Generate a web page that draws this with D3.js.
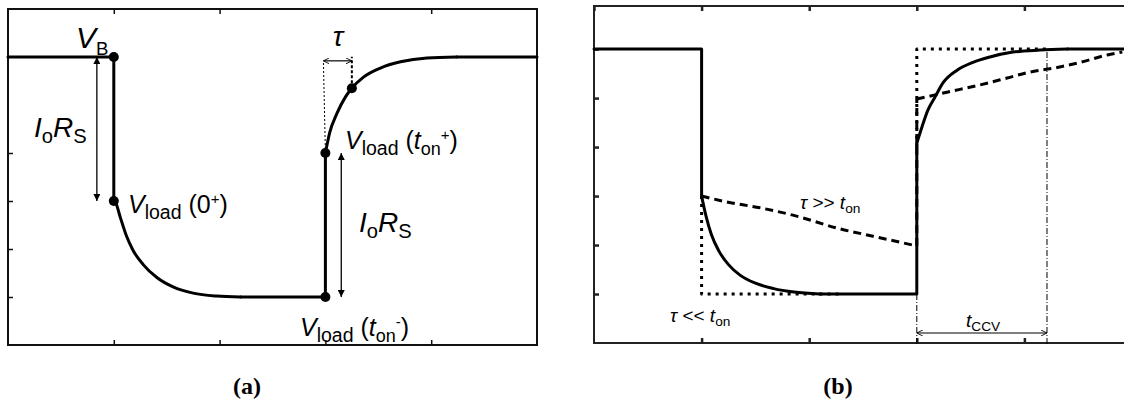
<!DOCTYPE html>
<html>
<head>
<meta charset="utf-8">
<script src="https://cdn.jsdelivr.net/npm/d3@7"></script>
<style>
  body { margin: 0; background: #fff; }
  svg { display: block; }
  text { fill: #000; }
</style>
</head>
<body>
<svg id="fig" width="1124" height="399"></svg>
<script>
// ---------- (a) one load pulse: time and voltage in tick units ----------
const bottomTicksA = [1, 2, 3, 4];
const topTicksA = [1, 2, 4];
const leftTicksA = [1, 2, 3, 4];
// battery voltage before the pulse, then the instantaneous IoRs drop
const stepInA = [[0, 6], [1, 6], [1, 3]];
// relaxation during the pulse towards v_load(t_on-)
const decayA = [[1, 3], [1.02, 2.95], [1.06, 2.67], [1.12, 2.27], [1.18, 1.98], [1.28, 1.67],
                [1.41, 1.40], [1.56, 1.21], [1.75, 1.08], [1.97, 1.02], [2.2, 1]];
// flat end of the pulse and the IoRs jump back up at t_on
const flatA = [[2.2, 1], [3, 1], [3, 4]];
// recovery after the pulse back to V_B
const riseA = [[3, 4], [3.04, 4.42], [3.11, 4.83], [3.19, 5.17], [3.25, 5.35], [3.36, 5.58],
               [3.52, 5.77], [3.71, 5.9], [3.96, 5.98], [4.24, 6]];
const tailA = [[4.24, 6], [5, 6]];
// highlighted points: V_B, v_load(0+), v_load(t_on-), v_load(t_on+), one time constant later
const pointsA = [[1, 6], [1, 3], [3, 1], [3, 4], [3.25, 5.35]];

// ---------- (b) fast vs slow time constant ----------
const bottomTicksB = [1, 2, 3, 4];
const topTicksB = [0, 1, 2, 3, 4];
const leftTicksB = [1, 2, 3, 4, 5, 6];
const stepInB = [[0, 6], [1, 6], [1, 3]];
const decayB = [[1, 3], [1.04, 2.6], [1.09, 2.22], [1.16, 1.88], [1.25, 1.6], [1.36, 1.38],
                [1.5, 1.22], [1.67, 1.11], [1.86, 1.04], [2.1, 1]];
const flatB = [[2.1, 1], [3, 1], [3, 4.08]];
const riseB = [[3, 4.08], [3.048, 4.41], [3.104, 4.76], [3.169, 5.02], [3.243, 5.31], [3.374, 5.57],
               [3.522, 5.73], [3.68, 5.84], [3.894, 5.94], [4.145, 5.98], [4.4, 6]];
const tailB = [[4.4, 6], [5, 6]];
// tau >> t_on: slow drift during the pulse and a slow recovery afterwards
const slowDecayB = [[1, 3], [1.232, 2.88], [1.543, 2.76], [1.849, 2.61], [2.286, 2.33], [2.593, 2.18], [3, 1.98]];
const slowJumpB = [[3, 1.98], [3, 4.98]];
const slowRiseB = [[3, 4.98], [3.28, 5.12], [3.59, 5.27], [3.84, 5.41], [4.05, 5.53], [4.27, 5.61],
                   [4.52, 5.73], [4.77, 5.88], [4.91, 5.94]];
// tau << t_on: ideal rectangular response
const idealLowB = [[1, 3], [1, 1], [2.3, 1]];
const idealHighB = [[3, 4], [3, 6], [4.2, 6]];
// OCV sampling window after the pulse
const tOcvB = [3, 4.21];

const SANS = "'Liberation Sans', Arial, sans-serif";
const SERIF = "'Liberation Serif', 'Times New Roman', serif";

const svg = d3.select("#fig");

const xA = d3.scaleLinear().domain([0, 5]).range([8, 537]);
const yA = d3.scaleLinear().domain([0, 7]).range([345, 9]);
const xB = d3.scaleLinear().domain([0, 5]).range([594, 1132]);
const yB = d3.scaleLinear().domain([0, 6.88]).range([343, 6]);

// arrowheads
const defs = svg.append("defs");
defs.append("marker").attr("id", "head").attr("viewBox", "0 0 10 10")
  .attr("refX", 10).attr("refY", 5).attr("markerWidth", 7).attr("markerHeight", 7)
  .attr("markerUnits", "userSpaceOnUse").attr("orient", "auto-start-reverse")
  .append("path").attr("d", "M0,0 L10,5 L0,10 Z").attr("fill", "#000");
defs.append("marker").attr("id", "headS").attr("viewBox", "0 0 10 10")
  .attr("refX", 10).attr("refY", 5).attr("markerWidth", 6).attr("markerHeight", 6)
  .attr("markerUnits", "userSpaceOnUse").attr("orient", "auto-start-reverse")
  .append("path").attr("d", "M0,0 L10,5 L0,10").attr("fill", "none").attr("stroke", "#000").attr("stroke-width", 1.5);

function frame(g, x, y, top, bottom, left, opts) {
  const [x0, x1] = x.range();
  const [y0, y1] = y.range();
  g.append("rect").attr("x", x0).attr("y", y1).attr("width", x1 - x0).attr("height", y0 - y1)
    .attr("fill", "none").attr("stroke", opts.color).attr("stroke-width", 2);
  const ax = (gen, tx, ty) => {
    const a = g.append("g").attr("transform", `translate(${tx},${ty})`).call(gen);
    a.select(".domain").remove();
    a.selectAll("text").remove();
    a.selectAll("line").attr("stroke", opts.color).attr("stroke-width", opts.tickWidth);
  };
  ax(d3.axisBottom(x).tickValues(bottom).tickSize(-opts.tick), 0, y0);
  ax(d3.axisTop(x).tickValues(top).tickSize(-opts.tick), 0, y1);
  ax(d3.axisLeft(y).tickValues(left).tickSize(-opts.tick), x0, 0);
}

function trace(g, x, y, data, curve, style) {
  const line = d3.line().x(d => x(d[0])).y(d => y(d[1])).curve(curve);
  const p = g.append("path").attr("d", line(data)).attr("fill", "none")
    .attr("stroke", "#000").attr("stroke-width", style.width)
    .attr("stroke-linejoin", "round").attr("stroke-linecap", style.cap || "round");
  if (style.dash) p.attr("stroke-dasharray", style.dash);
  return p;
}

// rich label: parts = [text, style] with style among it / sub / sup
function label(g, x, y, size, parts) {
  const t = g.append("text").attr("x", x).attr("y", y).style("font-size", size + "px")
    .style("font-family", SANS);
  let shift = 0;
  parts.forEach(([s, st = {}]) => {
    const target = st.sub ? size * 0.22 : st.sup ? -size * 0.38 : 0;
    const ts = t.append("tspan").text(s).attr("dy", target - shift);
    shift = target;
    if (st.it) ts.style("font-style", "italic");
    if (st.sub || st.sup) ts.style("font-size", (size * (st.scale || 0.72)) + "px");
    if (st.dx) ts.attr("dx", st.dx);
  });
  return t;
}

// ===================== panel (a) =====================
const gA = svg.append("g");
frame(gA, xA, yA, topTicksA, bottomTicksA, leftTicksA, { color: "#111", tick: 5, tickWidth: 1.5 });

const lin = d3.curveLinear, smooth = d3.curveMonotoneX;
trace(gA, xA, yA, stepInA, lin, { width: 3 });
trace(gA, xA, yA, decayA, smooth, { width: 3 });
trace(gA, xA, yA, flatA, lin, { width: 3 });
trace(gA, xA, yA, riseA, smooth, { width: 3 });
trace(gA, xA, yA, tailA, lin, { width: 3 });

gA.selectAll("circle.pt").data(pointsA).join("circle").attr("class", "pt")
  .attr("cx", d => xA(d[0])).attr("cy", d => yA(d[1])).attr("r", 5).attr("fill", "#000");

// IoRs dimension arrows
const arrowA = (xv, v0, v1) => gA.append("line")
  .attr("x1", xA(xv)).attr("x2", xA(xv)).attr("y1", yA(v0)).attr("y2", yA(v1))
  .attr("stroke", "#000").attr("stroke-width", 1.3)
  .attr("marker-start", "url(#head)").attr("marker-end", "url(#head)");
arrowA(0.84, 6, 3);
arrowA(3.15, 4, 1);

// time constant marker
const tauY = yA(5.92);
gA.append("line").attr("x1", xA(3)).attr("y1", yA(4)).attr("x2", xA(3) - 2).attr("y2", tauY)
  .attr("stroke", "#000").attr("stroke-width", 1).attr("stroke-dasharray", "2,2");
gA.append("line").attr("x1", xA(3.25)).attr("y1", yA(5.35)).attr("x2", xA(3.25)).attr("y2", tauY - 4)
  .attr("stroke", "#000").attr("stroke-width", 2).attr("stroke-dasharray", "3,2");
gA.append("line").attr("x1", xA(3) - 2).attr("x2", xA(3.25)).attr("y1", tauY).attr("y2", tauY)
  .attr("stroke", "#000").attr("stroke-width", 1.2)
  .attr("marker-start", "url(#headS)").attr("marker-end", "url(#headS)");

label(gA, xA(3.12), 46, 28, [["τ", { it: true }]]).attr("text-anchor", "middle");
label(gA, 76, 48, 30, [["V", { it: true }], ["B", { sub: true, scale: 0.62 }]]);
label(gA, 34, 137, 28, [["I", { it: true }], ["o", { sub: true }], ["R", { it: true }], ["S", { sub: true }]]);
label(gA, 359, 232, 28, [["I", { it: true }], ["o", { sub: true }], ["R", { it: true }], ["S", { sub: true }]]);
label(gA, 128, 213, 25, [["V", { it: true }], ["load", { sub: true, scale: 0.78 }], [" (0"], ["+", { sup: true, scale: 0.6 }], [")"]]);
label(gA, 345, 149, 25, [["V", { it: true }], ["load", { sub: true, scale: 0.78 }], [" ("], ["t", { it: true }], ["on", { sub: true }], ["+", { sup: true, scale: 0.6 }], [")"]]);
label(gA, 300, 336, 25, [["V", { it: true }], ["load", { sub: true, scale: 0.78 }], [" ("], ["t", { it: true }], ["on", { sub: true }], ["-", { sup: true, scale: 0.6 }], [")"]]);

// ===================== panel (b) =====================
const gB = svg.append("g");
frame(gB, xB, yB, topTicksB, bottomTicksB, leftTicksB, { color: "#222", tick: 5, tickWidth: 2.5 });

// ideal (tau << t_on) dotted response
trace(gB, xB, yB, idealLowB, lin, { width: 3, dash: "3,5", cap: "butt" });
trace(gB, xB, yB, idealHighB, lin, { width: 3, dash: "3,5", cap: "butt" });

// OCV window guides
[tOcvB[0], tOcvB[1]].forEach((t, i) => {
  gB.append("line").attr("x1", xB(t)).attr("x2", xB(t))
    .attr("y1", i === 0 ? yB(1) : yB(5.94)).attr("y2", yB(0) + 2)
    .attr("stroke", "#000").attr("stroke-width", 1).attr("stroke-dasharray", "6,2,1,2");
});
gB.append("line").attr("x1", xB(tOcvB[0])).attr("x2", xB(tOcvB[1])).attr("y1", 333).attr("y2", 333)
  .attr("stroke", "#000").attr("stroke-width", 1)
  .attr("marker-start", "url(#headS)").attr("marker-end", "url(#headS)");

// slow (tau >> t_on) dashed response
trace(gB, xB, yB, slowDecayB, smooth, { width: 3, dash: "8,5", cap: "butt" });
trace(gB, xB, yB, slowJumpB, lin, { width: 3, dash: "8,5", cap: "butt" });
trace(gB, xB, yB, slowRiseB, smooth, { width: 3, dash: "8,5", cap: "butt" });

// measured response
trace(gB, xB, yB, stepInB, lin, { width: 3 });
trace(gB, xB, yB, decayB, smooth, { width: 3 });
trace(gB, xB, yB, flatB, lin, { width: 3 });
trace(gB, xB, yB, riseB, smooth, { width: 3 });
trace(gB, xB, yB, tailB, lin, { width: 3 });

label(gB, 800, 209, 19, [["τ", { it: true }], [" >> "], ["t", { it: true }], ["on", { sub: true }]]);
label(gB, 670, 322, 19, [["τ", { it: true }], [" << "], ["t", { it: true }], ["on", { sub: true }]]);
label(gB, 966, 327, 19, [["t", { it: true }], ["CCV", { sub: true }]]);

// panel captions
[["(a)", 247], ["(b)", 838]].forEach(([s, cx]) => {
  svg.append("text").attr("x", cx).attr("y", 394).attr("text-anchor", "middle")
    .style("font-family", SERIF).style("font-weight", "bold")
    .style("font-size", "24px").text(s);
});
</script>
</body>
</html>
